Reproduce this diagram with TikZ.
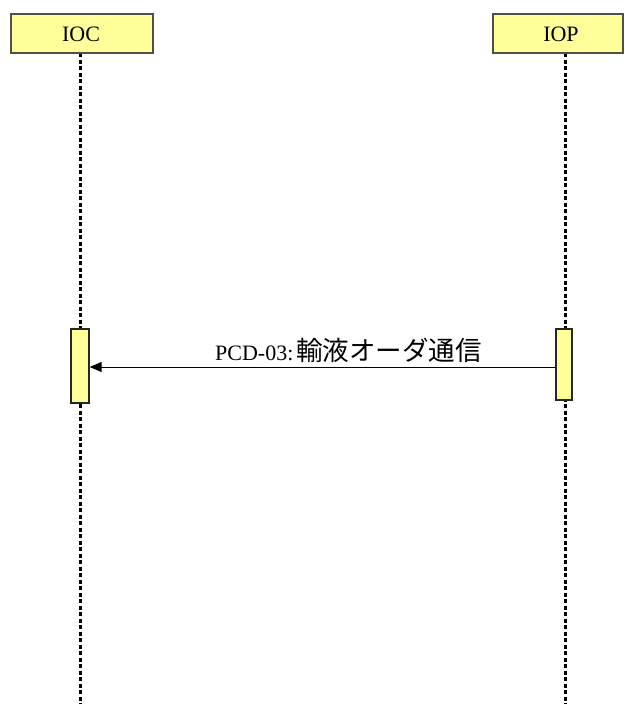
\documentclass[tikz,border=0pt]{standalone}
\usepackage{fontspec}
\setmainfont{Liberation Serif}
\newfontfamily\jpfont{Noto Sans CJK JP}
\usetikzlibrary{arrows.meta}
\definecolor{boxfill}{RGB}{255,255,153}
\definecolor{boxline}{RGB}{80,80,70}
\tikzset{
  headbox/.style={draw=boxline, line width=1.4pt, fill=boxfill},
  actbox/.style={draw=black!85, line width=1.4pt, fill=boxfill},
  lifeline/.style={draw=black, line width=3pt, dash pattern=on 4pt off 2.5pt},
  msg/.style={draw=black, line width=1pt, -{Triangle[length=12pt,width=10pt]}},
  headtext/.style={font=\fontsize{22}{24}\selectfont, inner sep=0pt},
}
\begin{document}
\begin{tikzpicture}[x=1pt,y=-1pt]
\useasboundingbox (0,0) rectangle (624,704);
% lifelines
\coordinate (iocTop) at (80,53);
\coordinate (iocBot) at (80,704);
\coordinate (iopTop) at (565,53);
\coordinate (iopBot) at (565,704);
\draw[lifeline] (iocTop) -- (iocBot);
\draw[lifeline] (iopTop) -- (iopBot);
% header boxes
\draw[headbox] (11,14) rectangle (153,53);
\node[headtext] (ioc) at (81,34) {IOC};
\draw[headbox] (493,14) rectangle (623,53);
\node[headtext] (iop) at (561,34) {IOP};
% activation boxes
\node[actbox, minimum width=18pt, minimum height=74pt, inner sep=0pt] (actL) at (80,366) {};
\node[actbox, minimum width=16pt, minimum height=71pt, inner sep=0pt] (actR) at (564,364.5) {};
% message
\coordinate (msgR) at (actR.west |- 0,367);
\coordinate (msgL) at (actL.east |- 0,367);
\draw[msg] (msgR) -- (msgL);
\node[anchor=base west, inner sep=0pt] (lbl) at (215,360) {\fontsize{22}{24}\selectfont PCD-03:\hspace{3pt}{\jpfont\fontsize{26.5}{29}\selectfont 輸液オーダ通信}};
\end{tikzpicture}
\end{document}
